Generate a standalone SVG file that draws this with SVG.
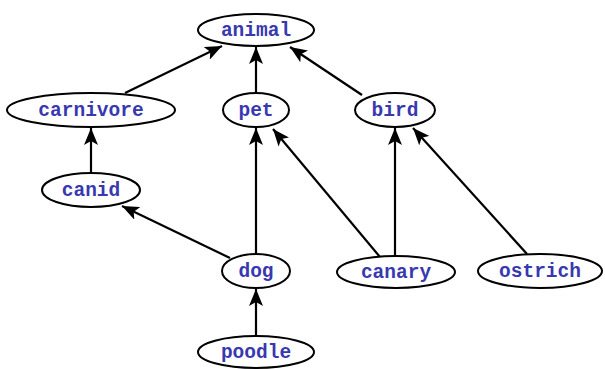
<svg xmlns="http://www.w3.org/2000/svg" width="605" height="369" viewBox="0 0 605 369">
<style>
.n ellipse{fill:#fff;stroke:#000;stroke-width:2}
.n text{font-family:"Liberation Mono","DejaVu Sans Mono",monospace;font-weight:bold;font-size:19.5px;fill:#3838b0;text-anchor:middle;dominant-baseline:central}
#edges line{stroke:#000;stroke-width:2.2;marker-end:url(#ah)}
</style>
<defs>
<marker id="ah" markerUnits="userSpaceOnUse" markerWidth="18" markerHeight="14" refX="17" refY="7" orient="auto">
<path d="M0,0 L17,7 L0,14 L4,7 Z" fill="#000"/>
</marker>
</defs>
<rect width="605" height="369" fill="#fff"/>
<g id="edges">
<line x1="125" y1="93" x2="222" y2="46"/>
<line x1="256" y1="94" x2="256" y2="47"/>
<line x1="362" y1="95" x2="290" y2="47"/>
<line x1="91" y1="174" x2="91" y2="128"/>
<line x1="230" y1="258" x2="122" y2="206"/>
<line x1="256" y1="255" x2="256" y2="128"/>
<line x1="380" y1="257" x2="273" y2="129"/>
<line x1="395" y1="257" x2="395" y2="128"/>
<line x1="527" y1="254" x2="413" y2="128"/>
<line x1="256" y1="336" x2="256" y2="289"/>
</g>
<g id="animal" class="n"><ellipse cx="256" cy="30" rx="58" ry="16"/><text x="256" y="31">animal</text></g>
<g id="carnivore" class="n"><ellipse cx="91" cy="110" rx="84" ry="17"/><text x="91" y="111">carnivore</text></g>
<g id="pet" class="n"><ellipse cx="256" cy="110" rx="33" ry="17"/><text x="256" y="111">pet</text></g>
<g id="bird" class="n"><ellipse cx="395" cy="110" rx="40" ry="17"/><text x="395" y="111">bird</text></g>
<g id="canid" class="n"><ellipse cx="91" cy="190" rx="49" ry="17"/><text x="91" y="191">canid</text></g>
<g id="dog" class="n"><ellipse cx="256" cy="271" rx="34" ry="17"/><text x="256" y="272">dog</text></g>
<g id="canary" class="n"><ellipse cx="396" cy="272" rx="59" ry="16"/><text x="396" y="273">canary</text></g>
<g id="ostrich" class="n"><ellipse cx="540" cy="271" rx="62" ry="17"/><text x="540" y="272">ostrich</text></g>
<g id="poodle" class="n"><ellipse cx="256" cy="352" rx="58" ry="16"/><text x="256" y="353">poodle</text></g>
</svg>
